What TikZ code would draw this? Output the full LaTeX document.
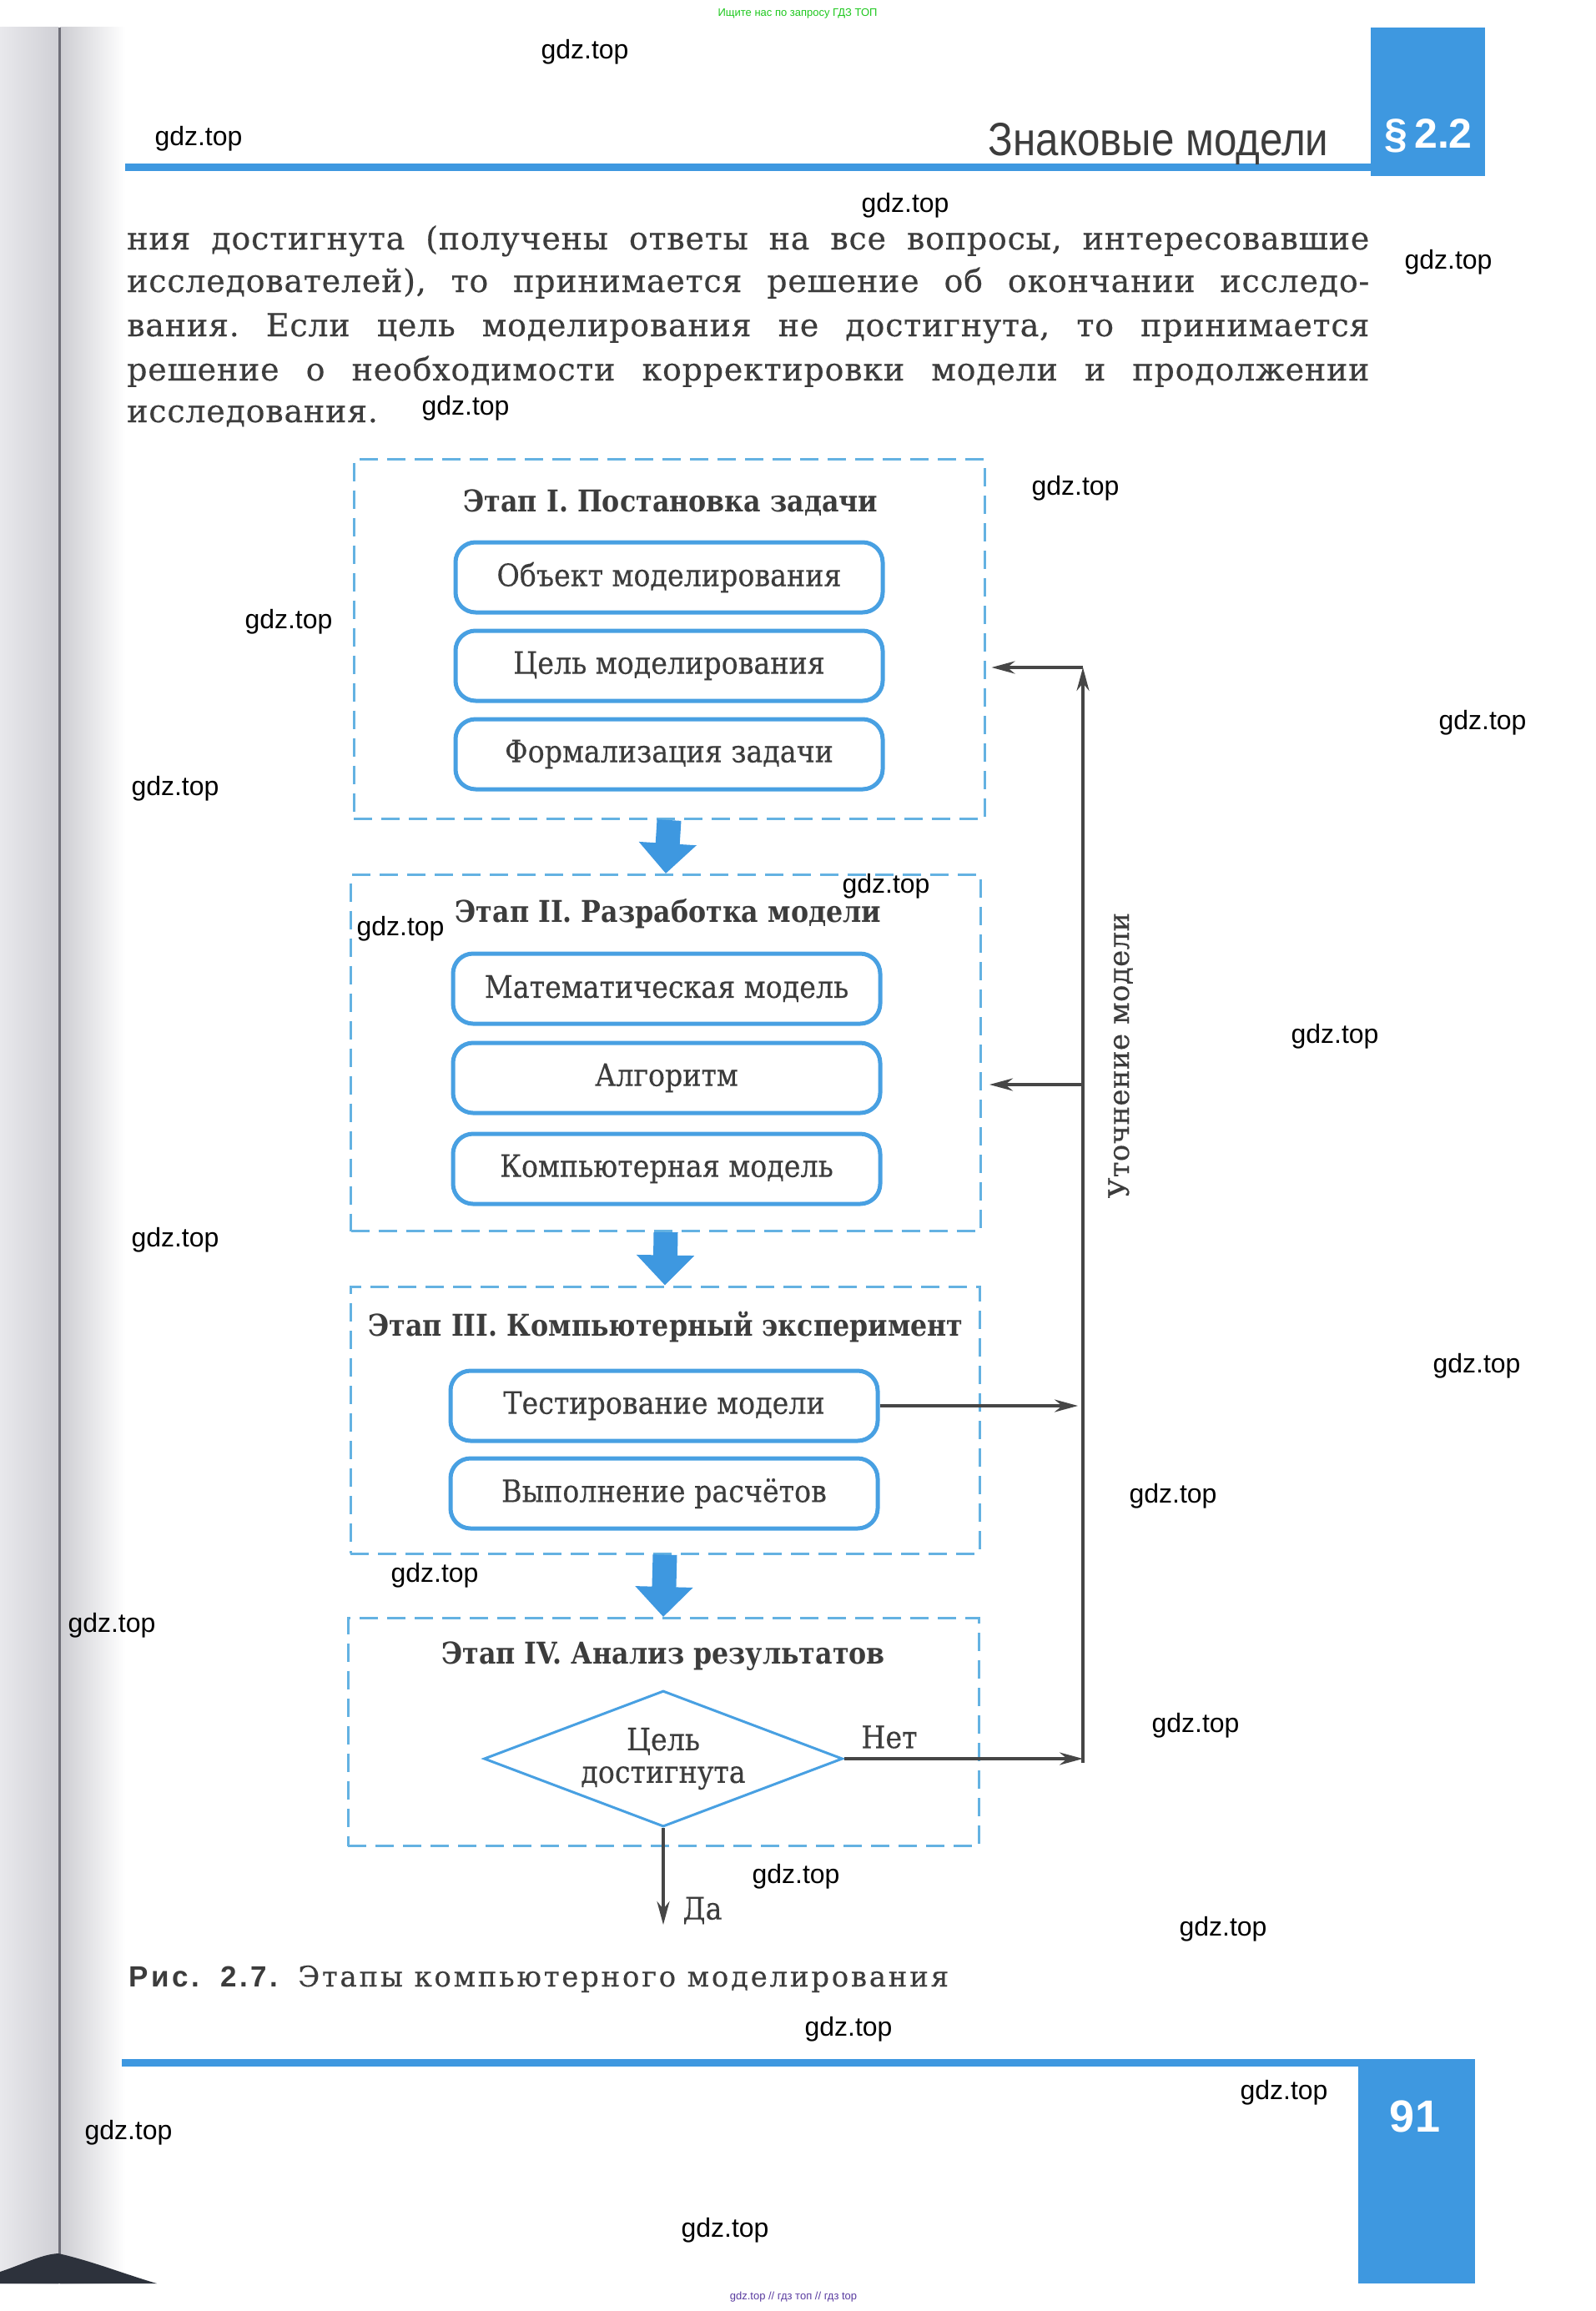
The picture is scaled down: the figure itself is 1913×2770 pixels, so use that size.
\documentclass[tikz,border=0pt]{standalone}
\usepackage{fontspec}
\setmainfont{DejaVu Serif}
\newfontfamily\sansf{Liberation Sans}
\newfontfamily\hdrf[FakeStretch=0.88]{Liberation Sans}
\newfontfamily\bodyf[FakeStretch=0.9, FakeBold=0.3]{DejaVu Serif}
\newfontfamily\titlef[FakeStretch=0.88]{DejaVu Serif}
\newfontfamily\parf[LetterSpace=2, FakeBold=0.3]{DejaVu Serif}
\newfontfamily\lsf[LetterSpace=8, FakeBold=0.3]{DejaVu Serif}
\newfontfamily\utf[LetterSpace=1, FakeBold=0.3]{DejaVu Serif}
\newfontfamily\capsans[LetterSpace=10]{Liberation Sans}
\usetikzlibrary{arrows.meta,shapes.geometric,calc}
\definecolor{pageblue}{RGB}{62,152,224}
\definecolor{boxblue}{RGB}{72,160,226}
\definecolor{dashblue}{RGB}{100,178,226}
\definecolor{ink}{RGB}{60,60,60}
\definecolor{arrowgray}{RGB}{70,70,70}
\definecolor{wmgreen}{RGB}{30,200,30}
\definecolor{wmpurple}{RGB}{90,60,160}
\definecolor{shadowc}{RGB}{45,50,60}
\definecolor{edgeA}{RGB}{232,232,236}
\definecolor{edgeB}{RGB}{208,208,213}
\definecolor{edgeC}{RGB}{205,205,210}
\definecolor{edgeline}{RGB}{110,110,120}
\begin{document}
\begin{tikzpicture}[x=1pt,y=-1pt,
  stagebox/.style={draw=dashblue, line width=3pt, dash pattern=on 22pt off 11pt, inner sep=0pt},
  itembox/.style={draw=boxblue, line width=5pt, rounded corners=24pt, minimum width=512pt, minimum height=84pt, inner sep=0pt, font=\bodyf\fontsize{37}{42}\selectfont, text=ink},
  stagetitle/.style={font=\titlef\bfseries\fontsize{36}{42}\selectfont, text=ink},
  bigarrow/.style={draw=pageblue, line width=29pt, -{Triangle[width=67pt,length=36pt]}},
  feed/.style={draw=arrowgray, line width=3.5pt, -{Stealth[length=28pt,width=15pt]}},
  para/.style={font=\parf\fontsize{38}{52}\selectfont\frenchspacing, text=ink, inner sep=0pt, anchor=base west},
  wmark/.style={font=\sansf\fontsize{32}{36}\selectfont, text=black},
  lbl/.style={font=\bodyf\fontsize{37}{42}\selectfont, text=ink}
]
\useasboundingbox (0,0) rectangle (1913,2770);
\fill[white] (0,0) rectangle (1913,2770);
% left page edge
\shade[left color=edgeA, right color=edgeB] (0,33) rectangle (70,2737);
\shade[left color=edgeC, right color=white] (72,33) rectangle (150,2737);
\fill[edgeline] (70,33) rectangle (72.5,2737);
\fill[shadowc] (0,2723) .. controls (30,2713) and (50,2702) .. (70,2701) .. controls (110,2710) and (150,2726) .. (188,2737) -- (0,2737) -- cycle;

% header
\fill[pageblue] (1643,33) rectangle (1780,211);
\fill[pageblue] (150,196) rectangle (1643,205);
\node[anchor=base east, font=\hdrf\fontsize{56}{60}\selectfont, text=ink] (hdr) at (1596,186) {Знаковые модели};
\node[font=\sansf\bfseries\fontsize{50}{54}\selectfont, text=white] (sec) at (1712,163) {§\,2.2};

% paragraph
\node[para] (p1) at (152,299) {\makebox[1489pt][s]{ния достигнута (получены ответы на все вопросы, интересовавшие}};
\node[para] (p2) at (152,350) {\makebox[1489pt][s]{исследователей), то принимается решение об окончании исследо-}};
\node[para] (p3) at (152,403) {\makebox[1489pt][s]{вания. Если цель моделирования не достигнута, то принимается}};
\node[para] (p4) at (152,456) {\makebox[1489pt][s]{решение о необходимости корректировки модели и продолжении}};
\node[para] (p5) at (152,506) {исследования.};

% stages
\node[stagebox, minimum width=756pt, minimum height=431pt] (s1) at (802,766) {};
\node[stagebox, minimum width=755pt, minimum height=427pt] (s2) at (798,1262) {};
\node[stagebox, minimum width=754pt, minimum height=320pt] (s3) at (797,1702) {};
\node[stagebox, minimum width=756pt, minimum height=273pt] (s4) at (795,2076) {};

\node[stagetitle] (t1) at (804,603) {Этап I. Постановка задачи};
\node[stagetitle] (t2) at (801,1095) {Этап II. Разработка модели};
\node[stagetitle] (t3) at (798,1591) {Этап III. Компьютерный эксперимент};
\node[stagetitle] (t4) at (795,1985) {Этап IV. Анализ результатов};

\node[itembox] (b11) at (802,692) {Объект моделирования};
\node[itembox] (b12) at (802,798) {Цель моделирования};
\node[itembox] (b13) at (802,904) {Формализация задачи};
\node[itembox] (b21) at (799,1185) {Математическая модель};
\node[itembox] (b22) at (799,1292) {Алгоритм};
\node[itembox] (b23) at (799,1401) {Компьютерная модель};
\node[itembox] (b31) at (796,1685) {Тестирование модели};
\node[itembox] (b32) at (796,1790) {Выполнение расчётов};

\node[draw=boxblue, line width=3pt, diamond, aspect=2.64, inner sep=0pt, minimum width=430pt, minimum height=163pt, align=center, font=\bodyf\fontsize{37}{39}\selectfont, text=ink] (dia) at (795,2108) {Цель\\достигнута};

% blue arrows between stages
\draw[bigarrow] (s1.south) -- (s2.north);
\draw[bigarrow] (s2.south) -- (s3.north);
\draw[bigarrow] (s3.south) -- (s4.north);

% feedback loop
\coordinate (vb) at (1298,2113);
\coordinate (vt) at (1298,800);
\coordinate (v2) at (1298,1300);
\coordinate (da) at (795,2307);
\draw[feed] (dia.east) -- (dia.east -| vb);
\draw[feed] (vb) -- (vt);
\draw[feed, shorten >=7pt] (vt) -- (vt -| s1.east);
\draw[feed, shorten >=9pt] (v2) -- (v2 -| s2.east);
\draw[feed, shorten >=6pt] (b31.east) -- (b31.east -| vt);
\draw[feed] (dia.south) -- (da);

\node[lbl] (net) at (1066,2082) {Нет};
\node[lbl] (yes) at (842,2290) {Да};
\node[rotate=90, font=\utf\fontsize{34}{40}\selectfont, text=ink] (ut) at (1343,1265) {Уточнение модели};

% caption
\node[anchor=base west, inner sep=0pt, text=ink] (cap) at (154,2381) {{\capsans\bfseries\fontsize{35}{40}\selectfont Рис.\hspace{8pt} 2.7.}\hspace{24pt}{\lsf\fontsize{34}{40}\selectfont Этапы компьютерного моделирования}};

% footer
\fill[pageblue] (146,2468) rectangle (1768,2477);
\fill[pageblue] (1628,2477) rectangle (1768,2737);
\node[font=\sansf\bfseries\fontsize{54}{60}\selectfont, text=white] (pg) at (1696,2537) {91};

% site marks
\node[font=\sansf\fontsize{13}{15}\selectfont, text=wmgreen] (topnote) at (956,16) {Ищите нас по запросу ГДЗ ТОП};
\node[font=\sansf\fontsize{13}{15}\selectfont, text=wmpurple] (botnote) at (951,2753) {gdz.top // гдз топ // гдз top};
\foreach \p [count=\i] in {(701,62),(238,166),(1085,246),(1736,314),(558,489),(1289,585),(346,745),(1777,866),(210,945),(1062,1062),(480,1113),(1600,1242),(210,1486),(1770,1637),(1406,1793),(521,1888),(134,1948),(1433,2068),(954,2249),(1466,2312),(1017,2432),(1539,2508),(154,2556),(869,2673)}
  \node[wmark] (w\i) at \p {gdz.top};
\end{tikzpicture}
\end{document}
